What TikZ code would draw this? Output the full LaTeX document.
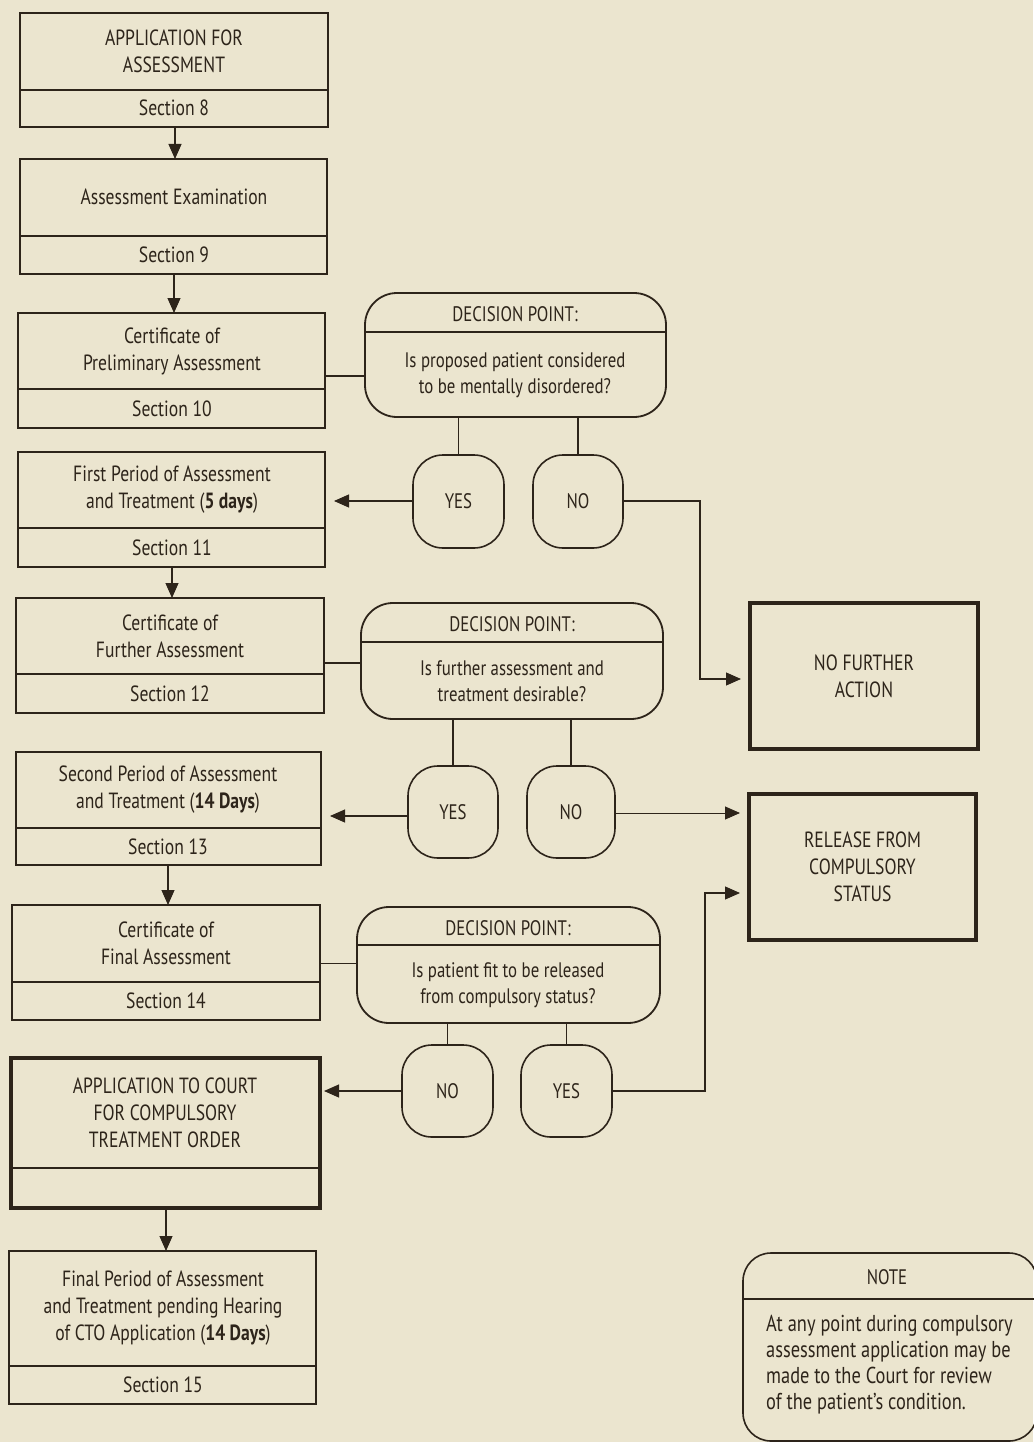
\documentclass[tikz,border=0pt]{standalone}
\usepackage{fontspec}
\setmainfont{PT Sans}[FakeStretch=0.8]
\usetikzlibrary{arrows.meta,calc}
\definecolor{paper}{RGB}{235,229,207}
\definecolor{ink}{RGB}{45,36,26}
\newcommand\boxat[6]{%
  \pgfmathsetmacro\bw{#4-#2}\pgfmathsetmacro\bh{#5-#3}%
  \pgfmathsetmacro\bx{(#2+#4)/2}\pgfmathsetmacro\by{(#3+#5)/2}%
  \node[#6, minimum width=\bw pt, minimum height=\bh pt] (#1) at (\bx,\by) {};}
\begin{document}
\begin{tikzpicture}[x=1pt,y=-1pt,
  frame/.style={draw=ink, line width=1.8pt, inner sep=0pt, outer sep=0pt},
  thickframe/.style={draw=ink, line width=3.6pt, inner sep=0pt, outer sep=0pt},
  decbox/.style={frame, rounded corners=32pt},
  ovalbox/.style={frame, line width=1.6pt, rounded corners=30pt},
  notebox/.style={frame, line width=1.6pt, rounded corners=28pt},
  lbl/.style={text=ink, font=\fontsize{22}{27}\selectfont, align=center, inner sep=0pt},
  small/.style={text=ink, font=\fontsize{21}{26}\selectfont, align=center, inner sep=0pt},
  notetext/.style={text=ink, font=\fontsize{23}{26}\selectfont, align=left, inner sep=0pt},
  divider/.style={draw=ink, line width=1.8pt},
  conn/.style={draw=ink, line width=1.1pt},
  arr/.style={conn, -{Triangle[length=15pt,width=13pt]}}]
\fill[paper] (0,0) rectangle (1033,1442);
\useasboundingbox (0,0) rectangle (1033,1442);

% left column boxes
\boxat{b1}{20}{13}{328}{127}{frame}
\boxat{b2}{20}{159}{327}{274}{frame}
\boxat{b3}{18}{313}{325}{428}{frame}
\boxat{b4}{18}{452}{325}{567}{frame}
\boxat{b5}{16}{598}{324}{713}{frame}
\boxat{b6}{16}{752}{321}{865}{frame}
\boxat{b7}{12}{905}{320}{1020}{frame}
\boxat{b8}{11}{1058}{320}{1208}{thickframe}
\boxat{b9}{9}{1251}{316}{1404}{frame}
\draw[divider] (b1.west |- 0,90) -- (b1.east |- 0,90);
\draw[divider] (b2.west |- 0,236) -- (b2.east |- 0,236);
\draw[divider] (b3.west |- 0,389) -- (b3.east |- 0,389);
\draw[divider] (b4.west |- 0,528) -- (b4.east |- 0,528);
\draw[divider] (b5.west |- 0,674) -- (b5.east |- 0,674);
\draw[divider] (b6.west |- 0,828) -- (b6.east |- 0,828);
\draw[divider] (b7.west |- 0,982) -- (b7.east |- 0,982);
\draw[divider, line width=2.4pt] (b8.west |- 0,1168) -- (b8.east |- 0,1168);
\draw[divider] (b9.west |- 0,1366) -- (b9.east |- 0,1366);

\node[lbl] (t1) at (174,51) {APPLICATION FOR\\ASSESSMENT};
\node[lbl] (s1) at (174,108) {Section 8};
\node[lbl] (t2) at (174,197) {Assessment Examination};
\node[lbl] (s2) at (174,255) {Section 9};
\node[lbl] (t3) at (172,351) {Certificate of\\Preliminary Assessment};
\node[lbl] (s3) at (172,409) {Section 10};
\node[lbl] (t4) at (172,490) {First Period of Assessment\\and Treatment (\textbf{5 days})};
\node[lbl] (s4) at (172,548) {Section 11};
\node[lbl] (t5) at (170,636) {Certificate of\\Further Assessment};
\node[lbl] (s5) at (170,694) {Section 12};
\node[lbl] (t6) at (168,790) {Second Period of Assessment\\and Treatment (\textbf{14 Days})};
\node[lbl] (s6) at (168,847) {Section 13};
\node[lbl] (t7) at (166,943) {Certificate of\\Final Assessment};
\node[lbl] (s7) at (166,1001) {Section 14};
\node[lbl] (t8) at (165,1113) {APPLICATION TO COURT\\FOR COMPULSORY\\TREATMENT ORDER};
\node[lbl] (t9) at (163,1308) {Final Period of Assessment\\and Treatment pending Hearing\\of CTO Application (\textbf{14 Days})};
\node[lbl] (s9) at (163,1385) {Section 15};

% vertical arrows
\draw[arr] (b1.south -| 175,0) -- (b2.north -| 175,0);
\draw[arr] (b2.south -| 174,0) -- (b3.north -| 174,0);
\draw[arr] (b4.south -| 172,0) -- (b5.north -| 172,0);
\draw[arr] (b6.south -| 168,0) -- (b7.north -| 168,0);
\draw[arr] (b8.south -| 166,0) -- (b9.north -| 166,0);

% decision boxes
\boxat{d1}{365}{293}{666}{417}{decbox}
\boxat{d2}{361}{603}{663}{719}{decbox}
\boxat{d3}{357}{907}{660}{1023}{decbox}
\draw[divider] (d1.west |- 0,332) -- (d1.east |- 0,332);
\draw[divider] (d2.west |- 0,642) -- (d2.east |- 0,642);
\draw[divider] (d3.west |- 0,945) -- (d3.east |- 0,945);
\node[small] (dt1) at (515,314) {DECISION POINT:};
\node[small] (db1) at (515,375) {Is proposed patient considered\\to be mentally disordered?};
\node[small] (dt2) at (512,624) {DECISION POINT:};
\node[small] (db2) at (512,681) {Is further assessment and\\treatment desirable?};
\node[small] (dt3) at (508,928) {DECISION POINT:};
\node[small] (db3) at (508,985) {Is patient fit to be released\\from compulsory status?};

% box to decision connectors
\draw[conn] (b3.east |- 0,376) -- (d1.west |- 0,376);
\draw[conn] (b5.east |- 0,663) -- (d2.west |- 0,663);
\draw[conn, line width=0.8pt] (b7.east |- 0,963) -- (d3.west |- 0,963);

% ovals
\boxat{o1y}{413}{455}{504}{548}{ovalbox}
\boxat{o1n}{533}{455}{623}{548}{ovalbox}
\boxat{o2y}{408}{766}{498}{858}{ovalbox}
\boxat{o2n}{527}{766}{615}{858}{ovalbox}
\boxat{o3n}{402}{1045}{493}{1137}{ovalbox}
\boxat{o3y}{521}{1045}{612}{1137}{ovalbox}
\node[small] (lo1y) at (o1y) {YES};
\node[small] (lo1n) at (o1n) {NO};
\node[small] (lo2y) at (o2y) {YES};
\node[small] (lo2n) at (o2n) {NO};
\node[small] (lo3n) at (o3n) {NO};
\node[small] (lo3y) at (o3y) {YES};

\draw[conn] (d1.south -| o1y.north) -- (o1y.north);
\draw[conn] (d1.south -| o1n.north) -- (o1n.north);
\draw[conn] (d2.south -| o2y.north) -- (o2y.north);
\draw[conn] (d2.south -| o2n.north) -- (o2n.north);
\draw[conn] (d3.south -| o3n.north) -- (o3n.north);
\draw[conn] (d3.south -| o3y.north) -- (o3y.north);

% outcome boxes
\boxat{nfa}{750}{603}{978}{749}{thickframe}
\boxat{rel}{749}{794}{976}{940}{thickframe}
\node[lbl] (tnfa) at (nfa) {NO FURTHER\\ACTION};
\node[lbl] (trel) at (rel) {RELEASE FROM\\COMPULSORY\\STATUS};

% yes/no arrows
\draw[arr, shorten >=9pt] (o1y.west |- 0,501) -- (b4.east |- 0,501);
\draw[arr, shorten >=9pt] (o2y.west |- 0,816) -- (b6.east |- 0,816);
\draw[arr, shorten >=4pt] (o3n.west |- 0,1091) -- (b8.east |- 0,1091);

\coordinate (c1) at (700,501);
\coordinate (c2) at (700,679);
\draw[arr, shorten >=9pt] (o1n.east |- c1) -- (c1) -- (c2) -- (nfa.west |- c2);
\coordinate (c3) at (615,813);
\draw[arr, line width=0.9pt, shorten >=9pt] (o2n.east |- c3) -- (rel.west |- c3);
\coordinate (c4) at (705,1091);
\coordinate (c5) at (705,893);
\draw[arr, shorten >=9pt] (o3y.east |- c4) -- (c4) -- (c5) -- (rel.west |- c5);

% note
\boxat{note}{743}{1253}{1037}{1441}{notebox}
\draw[divider, line width=1.6pt] (note.west |- 0,1299) -- (note.east |- 0,1299);
\node[small] (tnote) at (887,1277) {NOTE};
\node[notetext, anchor=west] (bnote) at (766,1365) {At any point during compulsory\\assessment application may be\\made to the Court for review\\of the patient's condition.};
\end{tikzpicture}
\end{document}
